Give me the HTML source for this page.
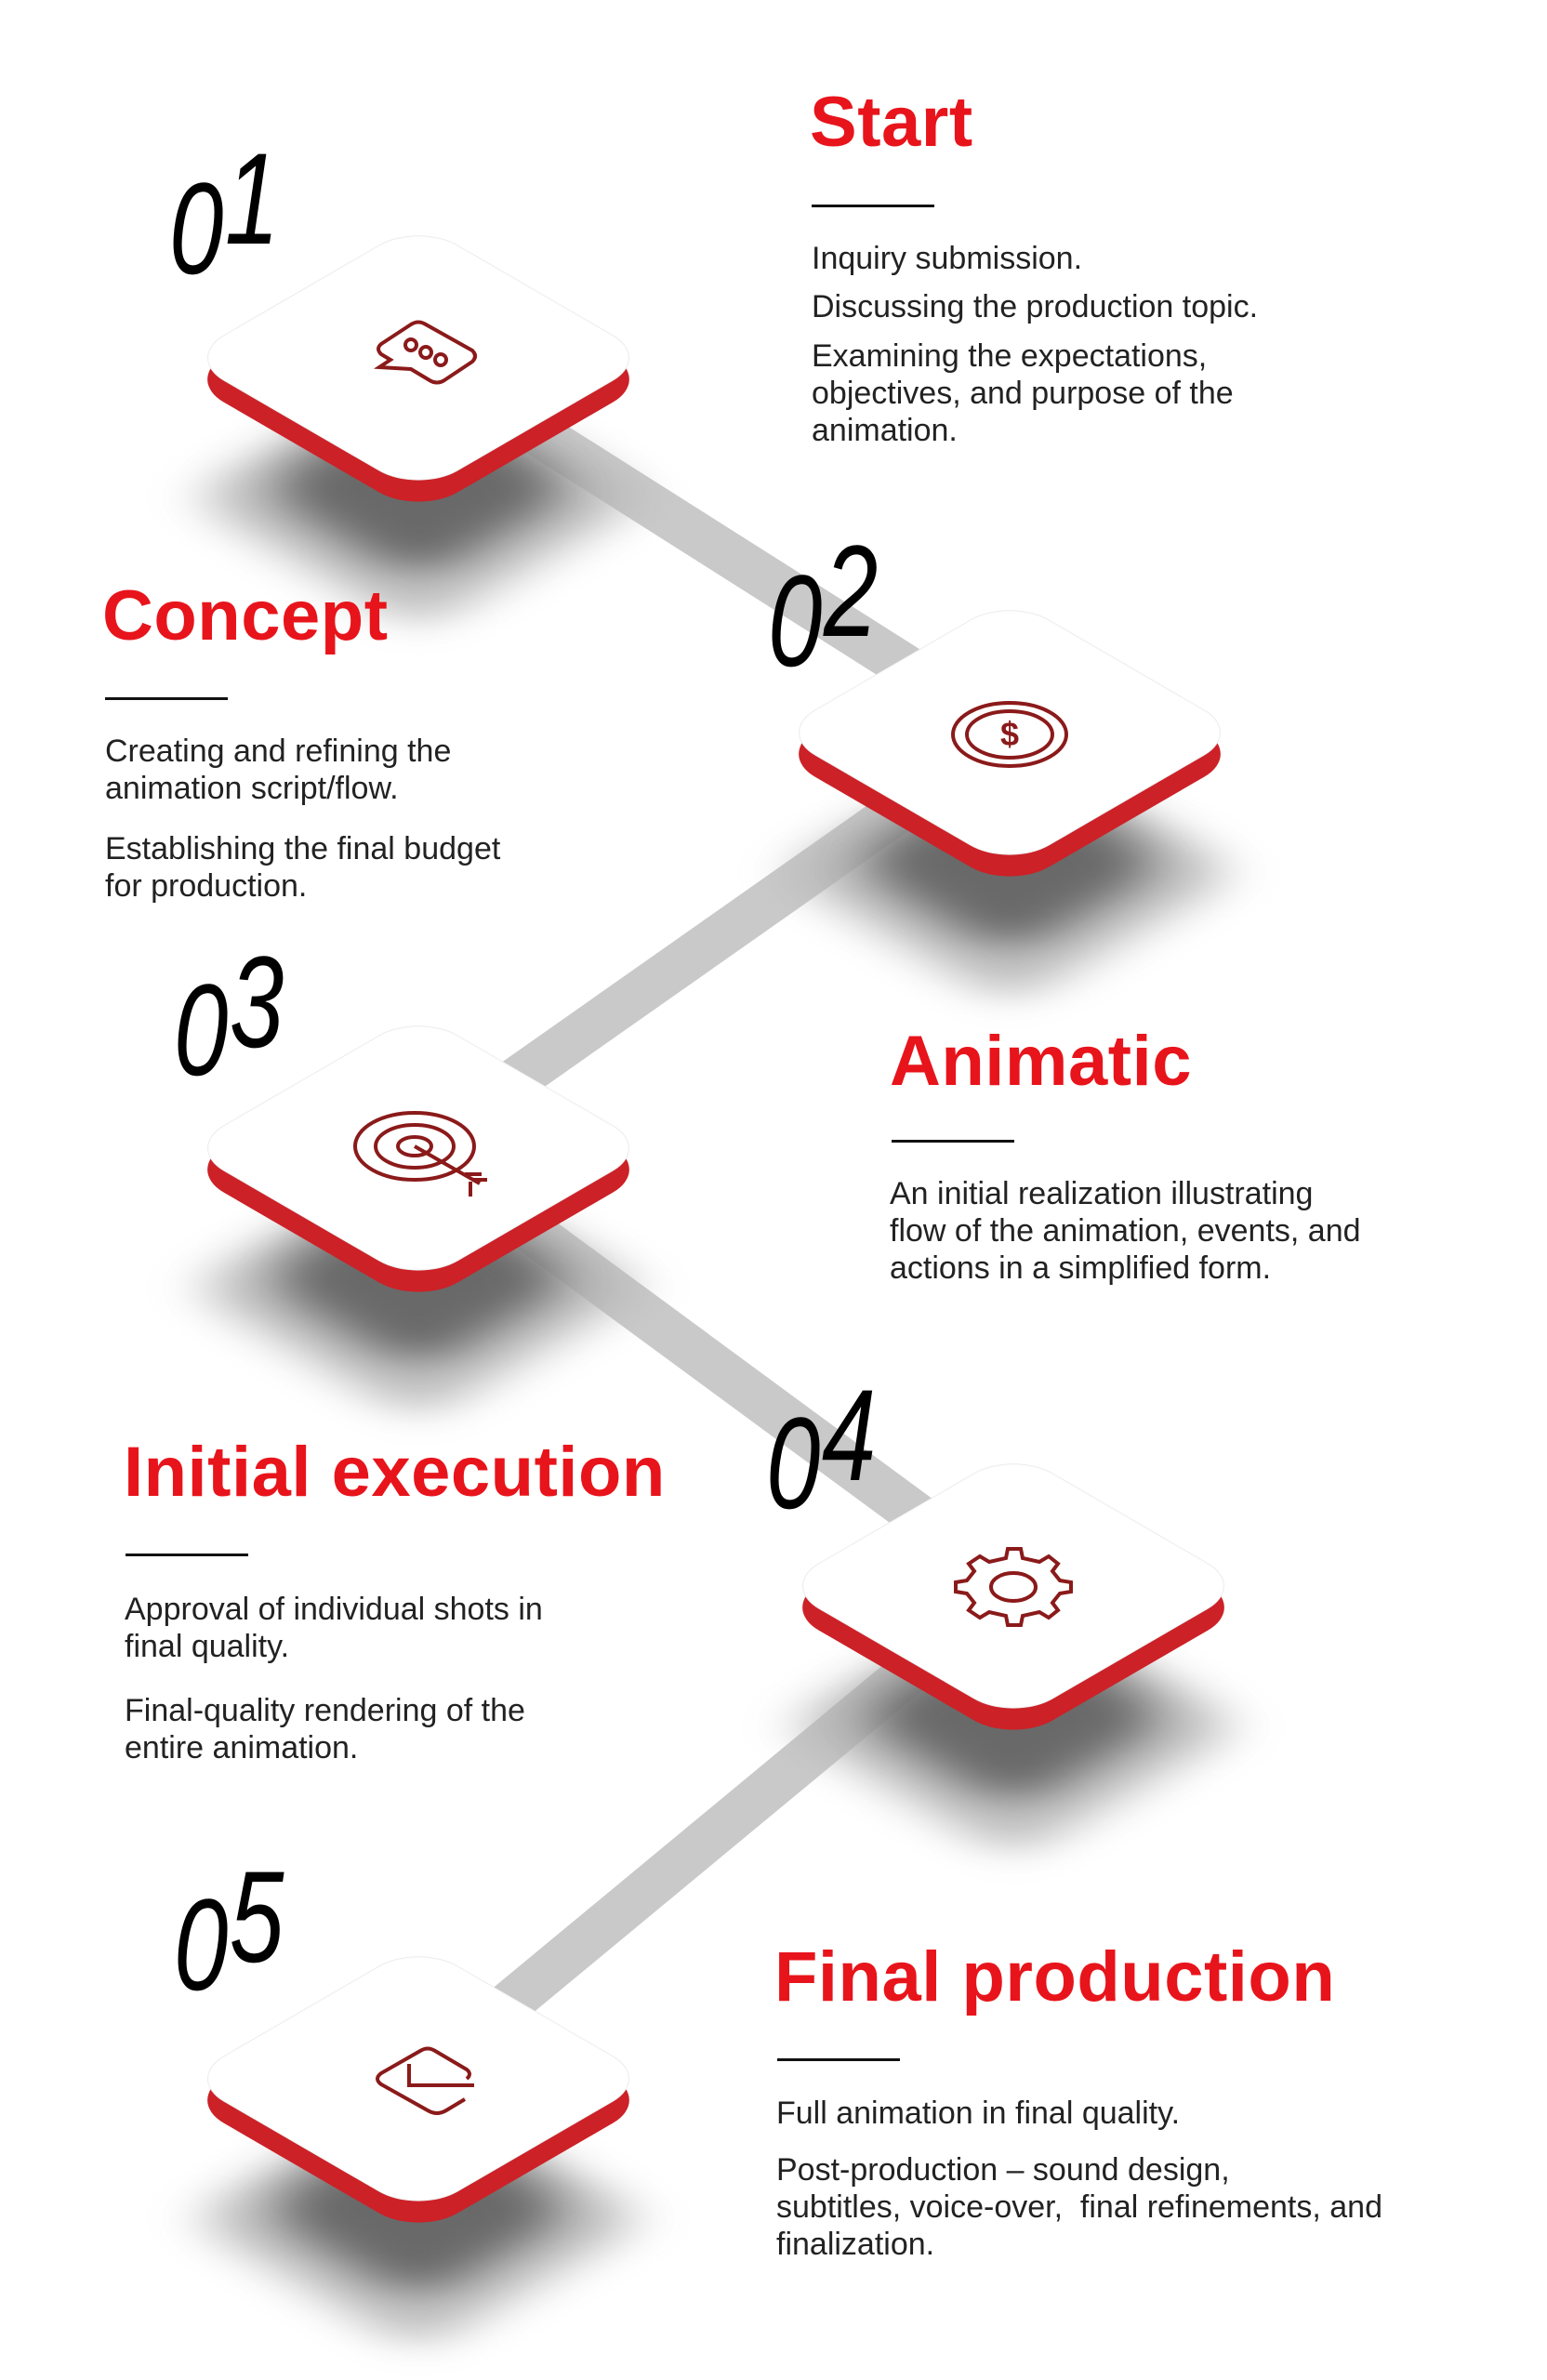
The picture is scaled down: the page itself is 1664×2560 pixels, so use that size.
<!DOCTYPE html>
<html><head><meta charset="utf-8">
<style>
html,body{margin:0;padding:0;background:#fff;}
body{width:1664px;height:2560px;position:relative;overflow:hidden;font-family:"Liberation Sans",sans-serif;}
.abs{position:absolute;}
.tile{position:absolute;width:0;height:0;}
.tile .sh,.tile .sh2,.tile .red,.tile .top{position:absolute;left:-178px;top:-178px;width:356px;height:356px;border-radius:60px;transform:scaleY(0.58) rotate(45deg);}
.tile .sh2{background:#b5b5b5;filter:blur(28px);left:-180px;top:-30px;width:360px;height:360px;opacity:.8;}
.tile .sh{background:#5a5a5a;filter:blur(30px);left:-125px;top:15px;width:250px;height:250px;opacity:.85;}
.tile .red{background:#cc2127;top:-155px;}
.tile .top{background:#fff;box-shadow:0 0 2px rgba(0,0,0,.25) inset;}
.tile svg{position:absolute;left:-70px;top:-50px;}
h2{position:absolute;margin:0;color:#e8141b;font-weight:bold;font-size:76px;line-height:80px;letter-spacing:0.5px;}
.rule{position:absolute;height:3px;width:132px;background:#111;}
.p{position:absolute;color:#222;font-size:34px;line-height:40px;margin:0;}
.num{position:absolute;font-style:italic;font-size:140px;line-height:150px;color:#000;transform:scaleX(0.75);transform-origin:left top;letter-spacing:2px;}
.num span{display:inline-block;position:relative;}
</style></head><body>

<svg class="abs" style="left:0;top:0" width="1664" height="2560">
<g stroke="#c9c9c9" stroke-width="48" stroke-linecap="butt">
<line x1="450" y1="385" x2="1086" y2="788"/>
<line x1="1086" y1="788" x2="450" y2="1235"/>
<line x1="450" y1="1235" x2="1090" y2="1706"/>
<line x1="1090" y1="1706" x2="450" y2="2236"/>
</g>
</svg>

<div class="tile" style="left:450px;top:385px"><div class="sh2"></div><div class="sh"></div><div class="red"></div><div class="top"></div>
<svg width="140" height="100" viewBox="0 0 140 100"><path d="M30 35 L62 14 Q70 9 78 14 L128 42 Q134 48 128 54 L98 74 Q90 79 82 74 L62 62 L28 60 L40 52 L30 46 Q24 40 30 35Z" fill="none" stroke="#8b1a1a" stroke-width="4"/><circle cx="62" cy="36" r="6" fill="none" stroke="#8b1a1a" stroke-width="4"/><circle cx="78" cy="44" r="6" fill="none" stroke="#8b1a1a" stroke-width="4"/><circle cx="94" cy="52" r="6" fill="none" stroke="#8b1a1a" stroke-width="4"/></svg></div>

<div class="tile" style="left:1086px;top:788px"><div class="sh2"></div><div class="sh"></div><div class="red"></div><div class="top"></div>
<svg width="140" height="100" viewBox="0 0 140 100"><ellipse cx="70" cy="52" rx="61" ry="34" fill="none" stroke="#8b1a1a" stroke-width="4"/><ellipse cx="70" cy="52" rx="46" ry="25" fill="none" stroke="#8b1a1a" stroke-width="4"/><text x="70" y="64" font-size="36" font-weight="bold" fill="#8b1a1a" text-anchor="middle" font-family="Liberation Sans">$</text></svg></div>

<div class="tile" style="left:450px;top:1235px"><div class="sh2"></div><div class="sh"></div><div class="red"></div><div class="top"></div>
<svg width="160" height="110" viewBox="0 0 160 110"><ellipse cx="66" cy="48" rx="64" ry="36" fill="none" stroke="#8b1a1a" stroke-width="4"/><ellipse cx="66" cy="48" rx="42" ry="23" fill="none" stroke="#8b1a1a" stroke-width="4"/><ellipse cx="66" cy="48" rx="18" ry="10" fill="none" stroke="#8b1a1a" stroke-width="4"/><path d="M66 48 L136 88 M120 78 L138 78 M126 86 L126 102 M128 84 L144 84" stroke="#8b1a1a" stroke-width="4" fill="none"/></svg></div>

<div class="tile" style="left:1090px;top:1706px"><div class="sh2"></div><div class="sh"></div><div class="red"></div><div class="top"></div>
<svg width="140" height="100" viewBox="0 0 140 100"><path d="M70 14 L84 14 L86 24 L104 28 L114 22 L124 30 L118 38 L126 48 L138 50 L138 60 L126 62 L118 72 L124 80 L114 88 L104 82 L86 86 L84 96 L70 96 L68 86 L50 82 L40 88 L28 80 L34 72 L26 62 L14 60 L14 50 L26 48 L34 38 L28 30 L40 22 L50 28 L68 24 Z" fill="none" stroke="#8b1a1a" stroke-width="4" transform="translate(-6,-4)"/><ellipse cx="70" cy="51" rx="24" ry="15" fill="none" stroke="#8b1a1a" stroke-width="4"/></svg></div>

<div class="tile" style="left:450px;top:2236px"><div class="sh2"></div><div class="sh"></div><div class="red"></div><div class="top"></div>
<svg width="140" height="100" viewBox="0 0 140 100"><path d="M120 72 L100 84 Q90 90 80 84 L30 56 Q22 50 30 44 L72 20 Q80 15 88 20 L122 40 Q128 45 122 50 M60 34 L60 57 L130 57" fill="none" stroke="#8b1a1a" stroke-width="4"/></svg></div>

<div class="num" style="left:182px;top:155px"><span style="top:16px">0</span><span style="top:-16px">1</span></div>
<div class="num" style="left:826px;top:577px"><span style="top:16px">0</span><span style="top:-16px">2</span></div>
<div class="num" style="left:187px;top:1017px"><span style="top:16px">0</span><span style="top:-14px">3</span></div>
<div class="num" style="left:824px;top:1483px"><span style="top:16px">0</span><span style="top:-14px">4</span></div>
<div class="num" style="left:187px;top:2001px"><span style="top:16px">0</span><span style="top:-14px">5</span></div>

<h2 style="left:871px;top:92px">Start</h2>
<div class="rule" style="left:873px;top:220px"></div>
<div class="p" style="left:873px;top:258px">Inquiry submission.</div>
<div class="p" style="left:873px;top:310px">Discussing the production topic.</div>
<div class="p" style="left:873px;top:363px">Examining the expectations,<br>objectives, and purpose of the<br>animation.</div>

<h2 style="left:110px;top:623px">Concept</h2>
<div class="rule" style="left:113px;top:750px"></div>
<div class="p" style="left:113px;top:788px">Creating and refining the<br>animation script/flow.</div>
<div class="p" style="left:113px;top:893px">Establishing the final budget<br>for production.</div>

<h2 style="left:957px;top:1102px">Animatic</h2>
<div class="rule" style="left:959px;top:1226px"></div>
<div class="p" style="left:957px;top:1264px">An initial realization illustrating<br>flow of the animation, events, and<br>actions in a simplified form.</div>

<h2 style="left:133px;top:1544px">Initial execution</h2>
<div class="rule" style="left:135px;top:1671px"></div>
<div class="p" style="left:134px;top:1711px">Approval of individual shots in<br>final quality.</div>
<div class="p" style="left:134px;top:1820px">Final-quality rendering of the<br>entire animation.</div>

<h2 style="left:833px;top:2087px">Final production</h2>
<div class="rule" style="left:836px;top:2214px"></div>
<div class="p" style="left:835px;top:2253px">Full animation in final quality.</div>
<div class="p" style="left:835px;top:2314px">Post-production – sound design,<br>subtitles, voice-over,&nbsp; final refinements, and<br>finalization.</div>

</body></html>
